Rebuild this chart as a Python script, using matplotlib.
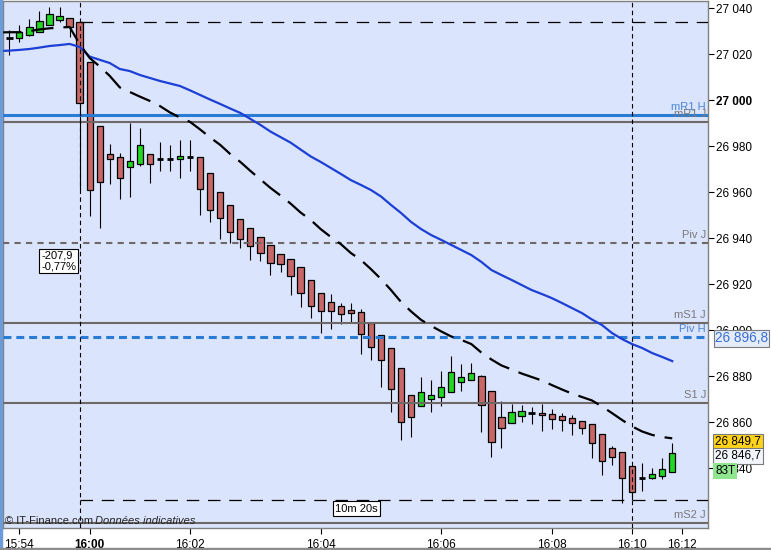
import numpy as np
import matplotlib
matplotlib.use("Agg")
import matplotlib.pyplot as plt
from matplotlib.transforms import blended_transform_factory
from matplotlib.patches import Rectangle

plt.rcParams['font.family'] = ['Liberation Sans', 'DejaVu Sans']

# candles (83 ticks per bar), prices
opens = [27026.8, 27026.8, 27028.2, 27029.7, 27032.5, 27034.8, 27035.5, 27033.8,
         27016.4, 26988.7, 26976.5, 26975.1, 26970.9, 26972.1, 26976.4, 26974.5,
         26974.5, 26974.2, 26975.2, 26975.1, 26968.2, 26959.9, 26954.2, 26948.2,
         26944.2, 26940.3, 26936.9, 26932.9, 26930.8, 26927.3, 26921.6, 26916.0,
         26912.1, 26910.5, 26908.6, 26907.7, 26902.9, 26897.7, 26892.1, 26883.4,
         26871.6, 26866.9, 26869.9, 26870.8, 26872.9, 26877.3, 26878.2, 26879.9,
         26873.6, 26862.3, 26859.7, 26862.6, 26863.9, 26863.8, 26863.4, 26862.5,
         26861.6, 26860.3, 26859.0, 26854.7, 26848.6, 26846.8, 26841.1, 26835.5,
         26835.5, 26836.4, 26838.2]
highs = [27030.5, 27032.6, 27035.2, 27038.7, 27040.6, 27040.6, 27035.5, 27033.8,
         27016.4, 26988.7, 26980.9, 26977.1, 26990.2, 26987.7, 26976.4, 26981.9,
         26980.5, 26982.6, 26982.6, 26975.1, 26968.2, 26959.9, 26954.2, 26948.2,
         26944.2, 26940.3, 26936.9, 26932.9, 26930.8, 26927.3, 26921.6, 26916.0,
         26915.7, 26911.6, 26911.6, 26909.0, 26902.9, 26897.7, 26892.1, 26883.4,
         26871.6, 26879.5, 26878.3, 26882.2, 26888.6, 26885.2, 26885.5, 26880.5,
         26873.6, 26869.0, 26867.8, 26867.4, 26866.4, 26867.8, 26865.5, 26863.8,
         26862.9, 26860.3, 26859.0, 26854.7, 26849.5, 26846.8, 26841.1, 26842.1,
         26839.9, 26844.2, 26850.8]
lows = [27019.6, 27025.4, 27028.0, 27029.7, 27032.5, 27033.9, 27027.5, 26960.9,
        26949.6, 26944.2, 26963.5, 26957.1, 26958.0, 26971.5, 26964.1, 26969.3,
        26969.3, 26966.2, 26969.3, 26950.2, 26947.1, 26939.7, 26938.0, 26935.5,
        26930.6, 26929.9, 26924.1, 26925.4, 26915.4, 26910.2, 26905.4, 26898.6,
        26900.3, 26902.5, 26903.4, 26889.5, 26887.1, 26875.4, 26864.5, 26852.3,
        26853.6, 26866.9, 26864.5, 26866.9, 26872.9, 26873.4, 26878.2, 26855.5,
        26844.7, 26848.6, 26859.7, 26860.2, 26859.2, 26856.2, 26857.1, 26856.2,
        26854.5, 26854.7, 26844.5, 26837.1, 26841.5, 26824.7, 26826.1, 26829.9,
        26835.1, 26835.1, 26838.2]
closes = [27026.8, 27029.5, 27031.6, 27034.5, 27037.3, 27036.5, 27031.9, 26998.6,
          26960.9, 26964.2, 26974.2, 26966.0, 26973.5, 26980.3, 26972.1, 26974.5,
          26974.5, 26975.5, 26975.2, 26961.2, 26952.1, 26948.6, 26942.5, 26939.7,
          26936.4, 26933.4, 26929.0, 26928.6, 26923.4, 26916.0, 26910.3, 26908.2,
          26908.2, 26906.9, 26907.3, 26898.3, 26892.5, 26886.9, 26874.2, 26859.9,
          26862.1, 26872.9, 26871.6, 26875.1, 26881.6, 26879.5, 26881.2, 26867.3,
          26851.5, 26857.3, 26864.5, 26864.7, 26863.9, 26862.9, 26861.2, 26860.8,
          26859.5, 26857.3, 26850.8, 26842.9, 26844.7, 26835.5, 26829.8, 26835.5,
          26837.5, 26839.5, 26846.4]

# moving averages, first value is the bar just left of the view
ma_black = [27029.4, 27029.5, 27029.5, 27030.0, 27030.7, 27031.2, 27031.5, 27031.8,
            27024.4, 27018.3, 27014.6, 27010.5, 27005.5, 27003.5, 27001.5, 26999.6,
            26997.4, 26994.6, 26992.4, 26990.5, 26987.2, 26983.7, 26980.5, 26976.5,
            26973.1, 26969.2, 26965.5, 26961.8, 26958.5, 26955.0, 26951.1, 26947.9,
            26943.9, 26940.5, 26937.4, 26933.5, 26930.5, 26926.5, 26922.2, 26917.4,
            26912.2, 26908.1, 26904.4, 26901.8, 26899.4, 26897.2, 26895.7, 26893.9,
            26890.2, 26887.2, 26884.6, 26882.9, 26881.1, 26879.6, 26878.1, 26876.1,
            26874.2, 26872.4, 26870.9, 26869.4, 26866.8, 26863.9, 26860.9, 26858.1,
            26855.9, 26854.4, 26853.5, 26852.9]
ma_blue = [27021.3, 27021.5, 27021.8, 27022.2, 27022.8, 27023.5, 27023.9, 27024.4,
           27023.1, 27018.9, 27017.5, 27016.1, 27013.5, 27012.6, 27010.9, 27009.6,
           27008.3, 27007.2, 27006.1, 27004.2, 27002.2, 27000.2, 26998.3, 26996.3,
           26994.4, 26991.8, 26989.2, 26986.3, 26983.9, 26981.5, 26978.5, 26975.5,
           26973.1, 26970.5, 26967.9, 26965.2, 26963.1, 26960.9, 26958.1, 26954.4,
           26950.9, 26947.0, 26943.9, 26941.3, 26939.2, 26937.0, 26934.8, 26932.6,
           26929.6, 26926.1, 26923.9, 26921.8, 26919.6, 26917.4, 26915.7, 26913.9,
           26911.8, 26909.6, 26907.4, 26904.6, 26902.2, 26898.7, 26896.1, 26893.9,
           26892.2, 26890.0, 26888.3, 26886.5]

# pivot levels
level_names = ['mR1 H', 'mR1 J', 'Piv J', 'mS1 J', 'Piv H', 'S1 J', 'mS2 J']
level_prices = [26993.5, 26990.5, 26938.0, 26903.2, 26896.8, 26868.4, 26816.0]

# time labels (bar index where each time falls)
time_bars = [1, 8, 18, 31, 43, 54, 62, 67]
time_labels = ['15:54', '16:00', '16:02', '16:04', '16:06', '16:08', '16:10', '16:12']

price_ticks = [26840, 26860, 26880, 26900, 26920, 26940, 26960, 26980, 27000, 27020, 27040]

# measurement tool
meas_bars = [7, 62]
meas_prices = [27033.8, 26825.9]

W, H = 771, 550
def fx(px):
    return px / W
def fy(py):
    return 1 - py / H

fig = plt.figure(figsize=(W / 100, H / 100), dpi=100)
fig.patch.set_facecolor('white')
ax = fig.add_axes([fx(3), fy(528), fx(705), 527 / H])
ax.set_facecolor('#dae4fc')

o = np.array(opens)
hgh = np.array(highs)
low = np.array(lows)
c = np.array(closes)
bars = np.arange(len(o))

# wicks
ax.vlines(bars, low, hgh, color='black', lw=0.8, zorder=3)
body_lo = np.minimum(o, c)
body_h = np.abs(c - o)
doji = body_h < 0.6
cols = np.where(c >= o, '#22d822', '#c86767')
ax.bar(bars[~doji], body_h[~doji], bottom=body_lo[~doji], width=0.62,
       color=cols[~doji], edgecolor='black', lw=0.9, zorder=4)
ax.hlines(o[doji], bars[doji] - 0.33, bars[doji] + 0.33, color='black', lw=2, zorder=4)

# level lines
blend = blended_transform_factory(ax.transAxes, ax.transData)
for name, p in zip(level_names, level_prices):
    blue = name.endswith('H')
    col = '#2a7bd4' if blue else '#6e6868'
    if name == 'Piv H':
        ax.axhline(p, color=col, lw=2.2, ls=(0, (2.6, 1.6)), zorder=5)
    elif name == 'Piv J':
        ax.axhline(p, color=col, lw=1.5, ls=(0, (3, 2.5)), zorder=5)
    elif blue:
        ax.axhline(p, color=col, lw=2.2, zorder=5)
    else:
        ax.axhline(p, color=col, lw=1.5, zorder=5)
    tcol = '#4a86d8' if blue else '#7a7a7a'
    ax.text(0.997, p + 1.3, name, transform=blend, ha='right', va='bottom',
            fontsize=8, color=tcol, zorder=6)

# moving averages
ma_x = np.arange(-1, len(o))
ax.plot(ma_x, ma_blue, color='#1c3fd6', lw=1.6, zorder=6)
ax.plot(ma_x, ma_black, color='black', lw=1.6, ls=(0, (10, 4.5)), zorder=6)

# measurement lines
ax.set_xlim(-0.627, 69.56)
ax.set_ylim(26813.93, 27043.07)
for b in meas_bars:
    ax.axvline(b, color='black', lw=0.8, ls=(0, (4, 3)), zorder=7)
for p in meas_prices:
    ax.hlines(p, meas_bars[0], 69.56, color='black', lw=0.9, ls=(0, (10, 7)), zorder=7)

# axes
ax.yaxis.tick_right()
ax.set_yticks(price_ticks, [f"{v:,}".replace(',', ' ') for v in price_ticks])
ax.set_xticks(time_bars, time_labels)
ax.tick_params(axis='y', length=4, width=0.8, pad=2, labelsize=8.5, colors='black')
ax.tick_params(axis='x', length=4, width=0.8, pad=4, labelsize=8.5, colors='black')
for t in ax.get_yticklabels() + ax.get_xticklabels():
    if t.get_text() in ('27 000', '16:00'):
        t.set_fontweight('bold')
for s in ax.spines.values():
    s.set_color('#808080')
    s.set_linewidth(1)

# boxes and annotations
diff = meas_prices[1] - meas_prices[0]
pct = diff / meas_prices[0] * 100
fig.text(fx(41), fy(261), f"{diff:.1f}\n{pct:.2f}%".replace('.', ','), fontsize=8,
         ha='left', va='center', linespacing=1.05,
         bbox=dict(boxstyle='square,pad=0.2', fc='white', ec='black', lw=0.8))
fig.text(fx(356.5), fy(508.5), '10m 20s', fontsize=8, ha='center', va='center',
         bbox=dict(boxstyle='square,pad=0.2', fc='white', ec='black', lw=0.8))
fig.text(fx(5), fy(521), '© IT-Finance.com', fontsize=8, ha='left', va='center', color='#222222')
fig.text(fx(95), fy(521), 'Données indicatives', fontsize=8, ha='left', va='center',
         style='italic', color='#222222')

fig.text(fx(715), fy(338.5), '26 896,8', fontsize=9.8, ha='left', va='center', color='#3a6fd0',
         bbox=dict(boxstyle='square,pad=0.1', fc='#e4ecfa', ec='#7a7a7a', lw=0.8))
fig.text(fx(715), fy(441.5), '26 849,7', fontsize=8.5, ha='left', va='center', color='black',
         bbox=dict(boxstyle='square,pad=0.15', fc='#ffd21a', ec='#7a7a7a', lw=0.8))
fig.text(fx(715), fy(456), '26 846,7', fontsize=8.5, ha='left', va='center', color='black',
         bbox=dict(boxstyle='square,pad=0.15', fc='#f2f5fc', ec='#7a7a7a', lw=0.8))
fig.text(fx(715), fy(471), '83T', fontsize=8.5, ha='left', va='center', color='black',
         bbox=dict(boxstyle='square,pad=0.15', fc='#8fe68f', ec='none'))

# window frame
fig.patches.append(Rectangle((0, 0), fx(2), 1, transform=fig.transFigure, color='#6b9bd8'))
fig.patches.append(Rectangle((0, 0), 1, 2 / H, transform=fig.transFigure, color='#8c8c8c'))

fig.savefig('out.png', dpi=100)
